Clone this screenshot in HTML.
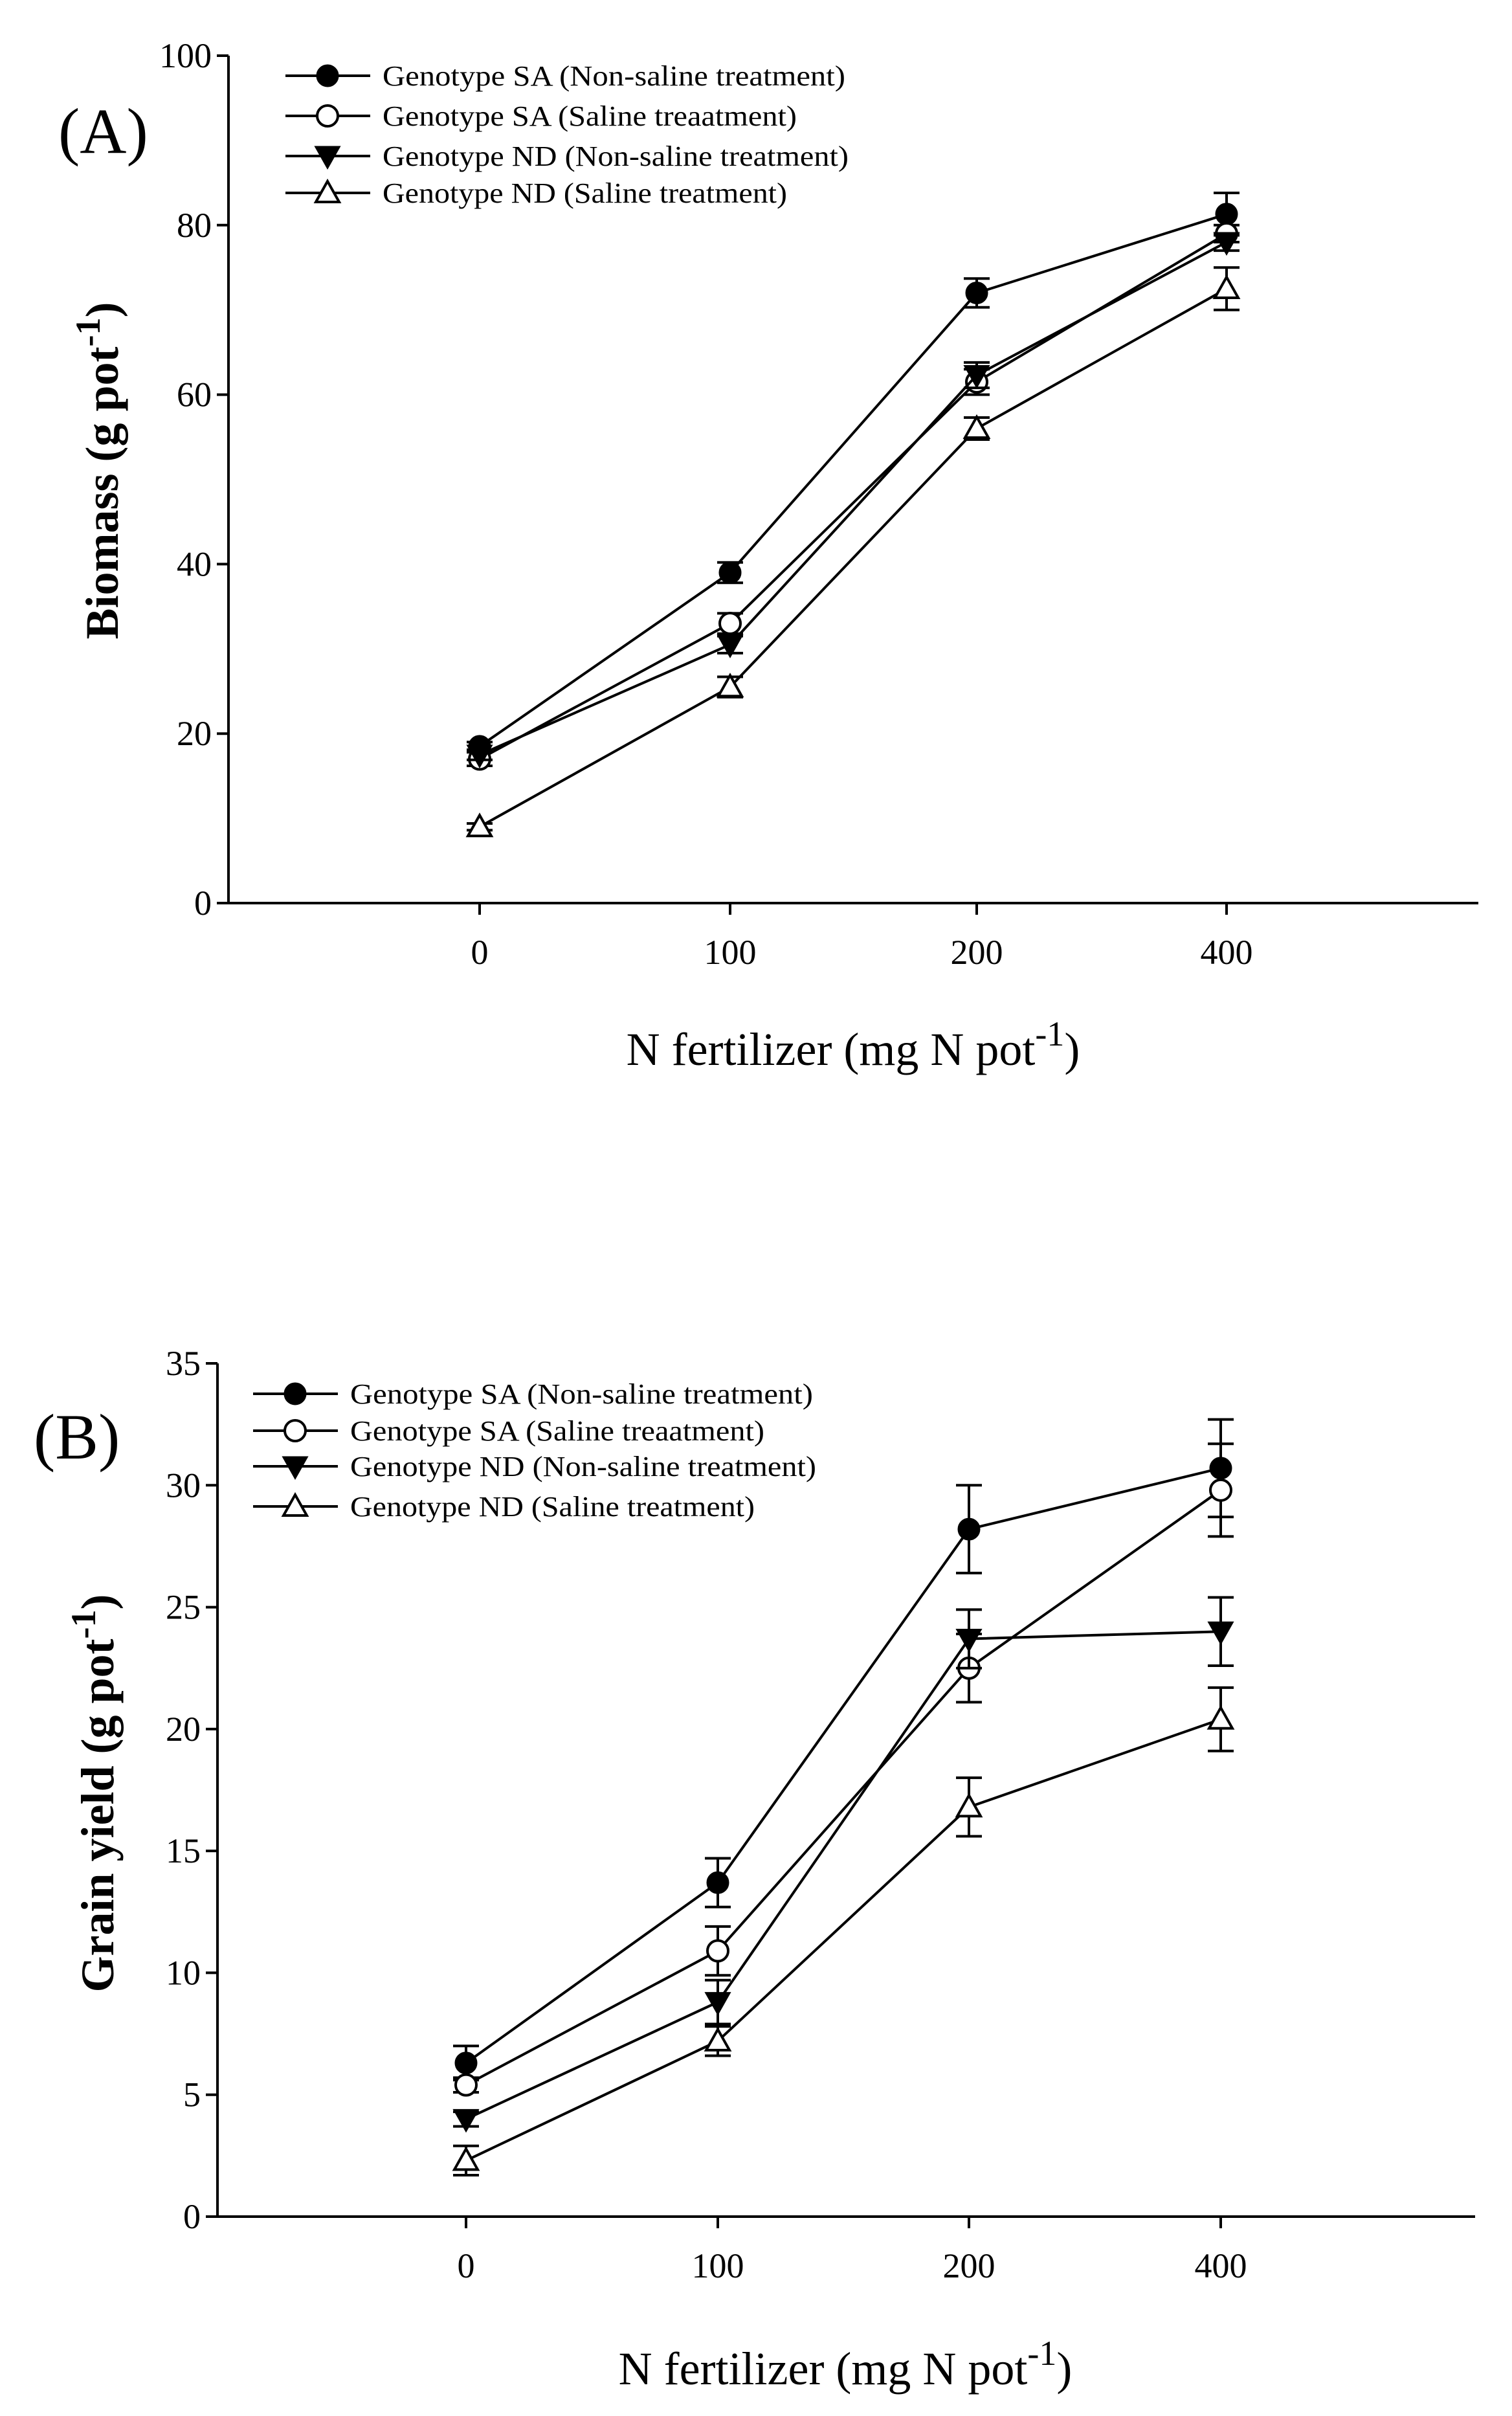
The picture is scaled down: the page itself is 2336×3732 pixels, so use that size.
<!DOCTYPE html>
<html><head><meta charset="utf-8"><style>
html,body{margin:0;padding:0;background:#fff;}
svg{display:block;}
text{font-family:"Liberation Serif",serif;fill:#000;}
</style></head><body>
<svg id="fig" width="2336" height="3732" viewBox="0 0 2336 3732" xmlns="http://www.w3.org/2000/svg"></svg>
<script>
// x categories
const categories = ["0","100","200","400"];
const seriesNames = ["Genotype SA (Non-saline treatment)","Genotype SA (Saline treaatment)","Genotype ND (Non-saline treatment)","Genotype ND (Saline treatment)"];
const seriesMarkers = ["circleFilled","circleOpen","triDownFilled","triUpOpen"];
// Panel A biomass
const biomassSAnon = [18.5, 39, 72, 81.3];
const biomassSAsal = [17, 33, 61.5, 79];
const biomassNDnon = [17.5, 30.5, 62.3, 78];
const biomassNDsal = [9, 25.5, 56, 72.5];
const biomassErrSAnon = [0.5, 1.2, 1.7, 2.5];
const biomassErrSAsal = [0.8, 1.2, 1.5, 1.0];
const biomassErrNDnon = [0.6, 1.0, 1.5, 1.0];
const biomassErrNDsal = [0.4, 1.2, 1.3, 2.5];
const biomassTicks = [0, 20, 40, 60, 80, 100];
// Panel B grain yield
const yieldSAnon = [6.3, 13.7, 28.2, 30.7];
const yieldSAsal = [5.4, 10.9, 22.5, 29.8];
const yieldNDnon = [4.0, 8.8, 23.7, 24.0];
const yieldNDsal = [2.3, 7.2, 16.8, 20.4];
const yieldErrSAnon = [0.7, 1.0, 1.8, 2.0];
const yieldErrSAsal = [0.3, 1.0, 1.4, 1.9];
const yieldErrNDnon = [0.3, 0.9, 1.2, 1.4];
const yieldErrNDsal = [0.6, 0.6, 1.2, 1.3];
const yieldTicks = [0, 5, 10, 15, 20, 25, 30, 35];

const NS = "http://www.w3.org/2000/svg";
const svg = document.getElementById("fig");
function mk(tag, attrs, parent, txt){
  const e = document.createElementNS(NS, tag);
  for (const k in attrs) e.setAttribute(k, attrs[k]);
  if (txt !== undefined) e.textContent = txt;
  (parent || svg).appendChild(e);
  return e;
}
function marker(g, type, cx, cy){
  const r = 16;
  let m;
  if (type === "circleFilled") m = mk("circle",{cx:cx,cy:cy,r:r,fill:"#000",stroke:"#000","stroke-width":3},g);
  else if (type === "circleOpen") m = mk("circle",{cx:cx,cy:cy,r:r,fill:"#fff",stroke:"#000","stroke-width":4},g);
  else if (type === "triDownFilled") m = mk("polygon",{points:`${cx-18},${cy-14} ${cx+18},${cy-14} ${cx},${cy+18}`,fill:"#000",stroke:"#000","stroke-width":3},g);
  else m = mk("polygon",{points:`${cx-18},${cy+14} ${cx+18},${cy+14} ${cx},${cy-18}`,fill:"#fff",stroke:"#000","stroke-width":4},g);
  return m;
}
function panel(cfg){
  const g = mk("g",{});
  
  
  const y = v => cfg.y0 + (cfg.yTop - cfg.y0) * (v - cfg.min) / (cfg.max - cfg.min);
  const x = i => cfg.xs[i];
  const ya = mk("line",{x1:cfg.ax,y1:cfg.yTop,x2:cfg.ax,y2:cfg.y0+2,stroke:"#000","stroke-width":4},g);
  
  
  const xa = mk("line",{x1:cfg.ax-2,y1:cfg.y0,x2:cfg.right,y2:cfg.y0,stroke:"#000","stroke-width":4},g);
  
  
  cfg.ticks.forEach(t => {
    mk("line",{x1:cfg.ax-18,y1:y(t),x2:cfg.ax,y2:y(t),stroke:"#000","stroke-width":4},g);
    const tl = mk("text",{x:cfg.ax-26,y:y(t)+18,"text-anchor":"end","font-size":54},g,String(t));
    
    
  });
  categories.forEach((c,i) => {
    mk("line",{x1:x(i),y1:cfg.y0,x2:x(i),y2:cfg.y0+18,stroke:"#000","stroke-width":4},g);
    const tl = mk("text",{x:x(i),y:cfg.y0+94,"text-anchor":"middle","font-size":54},g,c);
    
    
  });
  const xt = mk("text",{x:cfg.xTitleX,y:cfg.xTitleY,"text-anchor":"middle","font-size":72},g);
  
  
  mk("tspan",{},xt,"N fertilizer (mg N pot");
  mk("tspan",{dy:-30,"font-size":54},xt,"-1");
  mk("tspan",{dy:30},xt,")");
  const yt = mk("text",{x:0,y:0,"text-anchor":"middle","font-size":72,"font-weight":"bold",transform:`translate(${cfg.yTitleX},${cfg.yTitleY}) rotate(-90)`},g);
  
  
  mk("tspan",{},yt,cfg.yTitle + " (g pot");
  mk("tspan",{dy:-28,"font-size":54},yt,"-1");
  mk("tspan",{dy:28},yt,")");
  const pl = mk("text",{x:cfg.labelX,y:cfg.labelY,"font-size":100},g,cfg.label);
  
  
  cfg.series.forEach((vals, s) => {
    const sg = mk("g",{},g);
    
    
    const pts = vals.map((v,i) => `${x(i)},${y(v)}`).join(" ");
    mk("polyline",{points:pts,fill:"none",stroke:"#000","stroke-width":4},sg);
    vals.forEach((v,i) => {
      const e = cfg.errs[s][i];
      const eb = mk("path",{d:`M${x(i)},${y(v-e)}V${y(v+e)}M${x(i)-20},${y(v+e)}h40M${x(i)-20},${y(v-e)}h40`,stroke:"#000","stroke-width":4,fill:"none"},sg);
      
      
    });
    vals.forEach((v,i) => {
      const m = marker(sg, seriesMarkers[s], x(i), y(v));
      
      
    });
  });
  const lg = mk("g",{},g);
  
  
  seriesNames.forEach((n, s) => {
    const ly = cfg.legY[s];
    const eg = mk("g",{},lg);
    
    
    mk("line",{x1:cfg.legX,y1:ly,x2:cfg.legX+131,y2:ly,stroke:"#000","stroke-width":4},eg);
    marker(eg, seriesMarkers[s], cfg.legX+65, ly);
    const tw = [715, 640, 720, 625][s];
    mk("text",{x:cfg.legX+150,y:ly+15,"font-size":44,textLength:tw,lengthAdjust:"spacingAndGlyphs"},eg,n);
  });
}
panel({name:"panel-a-biomass", ax:353, right:2284, y0:1395, yTop:86, min:0, max:100,
  xs:[741,1128,1509,1895], ticks:biomassTicks,
  series:[biomassSAnon,biomassSAsal,biomassNDnon,biomassNDsal],
  errs:[biomassErrSAnon,biomassErrSAsal,biomassErrNDnon,biomassErrNDsal],
  xTitleX:1318, xTitleY:1645, yTitleX:182, yTitleY:727, yTitle:"Biomass",
  label:"(A)", labelX:90, labelY:236, legX:441, legY:[117,179,241,298]});
panel({name:"panel-b-grain-yield", ax:336, right:2279, y0:3424, yTop:2106, min:0, max:35,
  xs:[720,1109,1497,1886], ticks:yieldTicks,
  series:[yieldSAnon,yieldSAsal,yieldNDnon,yieldNDsal],
  errs:[yieldErrSAnon,yieldErrSAsal,yieldErrNDnon,yieldErrNDsal],
  xTitleX:1306, xTitleY:3683, yTitleX:175, yTitleY:2770, yTitle:"Grain yield",
  label:"(B)", labelX:52, labelY:2253, legX:391, legY:[2153,2210,2265,2327]});
</script>
</body></html>
